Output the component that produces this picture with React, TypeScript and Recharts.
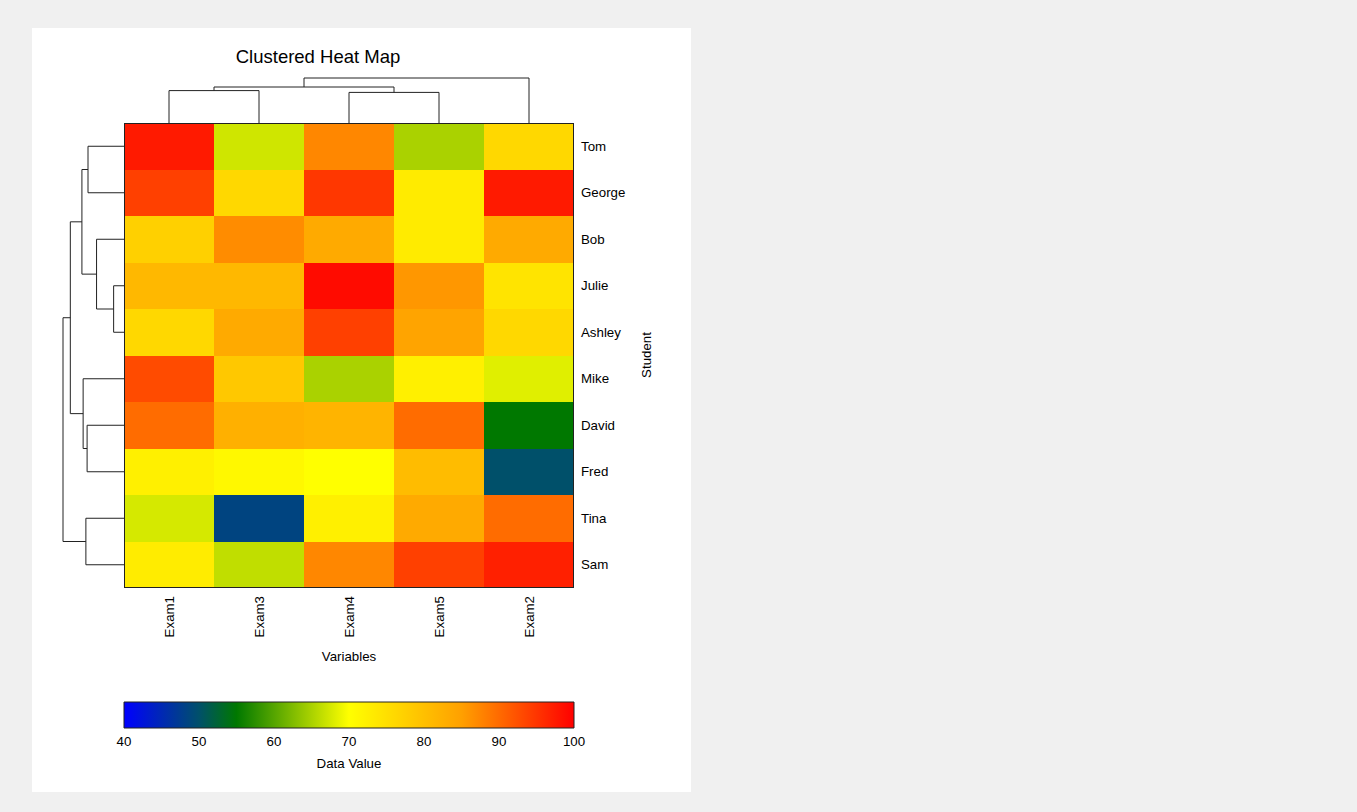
import React from 'react';
import { ScatterChart, Scatter, ComposedChart, Bar, XAxis, YAxis } from 'recharts';

// column order after clustering
const exams = ['Exam1', 'Exam3', 'Exam4', 'Exam5', 'Exam2'];
// row order after clustering
const students = ['Tom', 'George', 'Bob', 'Julie', 'Ashley', 'Mike', 'David', 'Fred', 'Tina', 'Sam'];

// scores per student, same order as `exams`
const tom = [97.6, 67.2, 87.3, 65.0, 76.2];
const george = [94.0, 76.2, 94.8, 73.2, 97.6];
const bob = [77.4, 86.9, 83.4, 73.2, 83.4];
const julie = [81.2, 81.2, 99.0, 85.8, 74.3];
const ashley = [76.2, 83.4, 94.0, 84.4, 76.2];
const mike = [93.0, 78.7, 65.0, 72.4, 68.2];
const david = [89.9, 82.5, 81.8, 89.9, 55.0];
const fred = [72.4, 71.1, 70.0, 80.6, 50.0];
const tina = [67.5, 48.5, 72.4, 83.4, 89.9];
const sam = [73.0, 66.3, 87.3, 94.0, 97.0];
const scores = [tom, george, bob, julie, ashley, mike, david, fred, tina, sam];

// linkage: [left child, right child, height]; leaves first, then merges in order
const colLinks = [[0, 1, 72], [2, 3, 68], [5, 6, 80], [7, 4, 100]];
const rowLinks = [
  [3, 4, 17], [2, 10, 45], [0, 1, 59], [12, 11, 69], [6, 7, 60.5],
  [5, 14, 67], [13, 15, 88], [8, 9, 62.5], [16, 17, 100],
];

// colour scale
const stopValues = [40, 50, 55, 70, 85, 100];
const stopColors = ['#0000ff', '#00506a', '#007800', '#ffff00', '#ffa000', '#ff0000'];
const legendTicks = [40, 50, 60, 70, 80, 90, 100];

const FONT = '"Liberation Sans", Arial, sans-serif';
const FS = 13.3;
const PLOT_X = 124;
const PLOT_Y = 123;
const PLOT_W = 450;
const PLOT_H = 465;
const LINE = '#222';

function hexToRgb(h: string) {
  return [1, 3, 5].map((i) => parseInt(h.slice(i, i + 2), 16));
}

function heatColor(v: number) {
  const lo = stopValues[0];
  const hi = stopValues[stopValues.length - 1];
  const val = Math.max(lo, Math.min(hi, v));
  let i = 0;
  while (i < stopValues.length - 2 && val > stopValues[i + 1]) i++;
  const t = (val - stopValues[i]) / (stopValues[i + 1] - stopValues[i]);
  const a = hexToRgb(stopColors[i]);
  const b = hexToRgb(stopColors[i + 1]);
  const c = a.map((x, k) => Math.round(x + (b[k] - x) * t));
  return `rgb(${c[0]},${c[1]},${c[2]})`;
}

function buildLinks(n: number, links: number[][]) {
  const pos: number[] = [];
  const hgt: number[] = [];
  for (let i = 0; i < n; i++) {
    pos.push(i + 0.5);
    hgt.push(0);
  }
  return links.map(([a, b, h]) => {
    const seg = [
      { p: pos[a], h: hgt[a] },
      { p: pos[a], h },
      { p: pos[b], h },
      { p: pos[b], h: hgt[b] },
    ];
    pos.push((pos[a] + pos[b]) / 2);
    hgt.push(h);
    return seg;
  });
}

const cells = scores.flatMap((row, r) => row.map((v, c) => ({ x: c + 0.5, y: r + 0.5, v })));
const colSegs = buildLinks(exams.length, colLinks);
const rowSegs = buildLinks(students.length, rowLinks);

const noDot = () => <g />;

const CellShape = (props: any) => {
  const cw = PLOT_W / exams.length;
  const ch = PLOT_H / students.length;
  return (
    <rect
      x={props.cx - cw / 2}
      y={props.cy - ch / 2}
      width={cw}
      height={ch}
      fill={heatColor(props.payload.v)}
      shapeRendering="crispEdges"
    />
  );
};

const ExamTick = (props: any) => {
  const { x, y, payload } = props;
  const ty = y + 8;
  return (
    <text x={x} y={ty} dy="0.35em" textAnchor="end" transform={`rotate(-90 ${x} ${ty})`}
      fontSize={FS} fontFamily={FONT} fill="#000">
      {exams[Math.floor(payload.value)]}
    </text>
  );
};

const StudentTick = (props: any) => {
  const { x, y, payload } = props;
  return (
    <text x={x + 7} y={y} dy="0.35em" textAnchor="start" fontSize={FS} fontFamily={FONT} fill="#000">
      {students[Math.floor(payload.value)]}
    </text>
  );
};

const LegendTick = (props: any) => {
  const { x, y, payload } = props;
  return (
    <text x={x} y={y + 13} dy="0.35em" textAnchor="middle" fontSize={FS} fontFamily={FONT} fill="#000">
      {payload.value}
    </text>
  );
};

export default function App() {
  const abs = (left: number, top: number): React.CSSProperties => ({ position: 'absolute', left, top });
  return (
    <div style={{ position: 'absolute', left: 0, top: 0, width: 1357, height: 812, background: '#f0f0f0', overflow: 'hidden' }}>
      <div style={{ position: 'absolute', left: 32, top: 28, width: 659, height: 764, background: '#fff' }} />

      {/* column dendrogram */}
      <div style={abs(124, 73)}>
        <ScatterChart width={450} height={50} margin={{ top: 5, right: 0, bottom: 0, left: 0 }}>
          <XAxis type="number" dataKey="p" domain={[0, 5]} hide />
          <YAxis type="number" dataKey="h" domain={[0, 100]} hide />
          {colSegs.map((seg, i) => (
            <Scatter key={i} data={seg} line={{ stroke: LINE, strokeWidth: 1 }} shape={noDot} isAnimationActive={false} />
          ))}
        </ScatterChart>
      </div>

      {/* row dendrogram */}
      <div style={abs(58, 123)}>
        <ScatterChart width={66} height={465} margin={{ top: 0, right: 0, bottom: 0, left: 5 }}>
          <XAxis type="number" dataKey="h" domain={[0, 100]} reversed hide />
          <YAxis type="number" dataKey="p" domain={[0, 10]} reversed hide />
          {rowSegs.map((seg, i) => (
            <Scatter key={i} data={seg} line={{ stroke: LINE, strokeWidth: 1 }} shape={noDot} isAnimationActive={false} />
          ))}
        </ScatterChart>
      </div>

      {/* heat map */}
      <div style={abs(100, 100)}>
        <ScatterChart width={600} height={600} margin={{ top: 23, right: 54, bottom: 42, left: 24 }}>
          <XAxis type="number" dataKey="x" domain={[0, 5]} ticks={[0.5, 1.5, 2.5, 3.5, 4.5]} interval={0}
            axisLine={false} tickLine={false} tickSize={0} tickMargin={0} height={70} tick={<ExamTick />} />
          <YAxis type="number" dataKey="y" domain={[0, 10]} reversed orientation="right"
            ticks={[0.5, 1.5, 2.5, 3.5, 4.5, 5.5, 6.5, 7.5, 8.5, 9.5]} interval={0}
            axisLine={false} tickLine={false} tickSize={0} tickMargin={0} width={72} tick={<StudentTick />} />
          <Scatter data={cells} shape={<CellShape />} isAnimationActive={false} />
        </ScatterChart>
      </div>

      {/* colour bar */}
      <div style={abs(100, 690)}>
        <ComposedChart layout="vertical" width={500} height={80} data={[{ name: 'scale', range: [40, 100] }]}
          margin={{ top: 12, right: 26, bottom: 12, left: 24 }} barCategoryGap={0}>
          <defs>
            <linearGradient id="cbar" x1="0" y1="0" x2="1" y2="0">
              {stopValues.map((v, i) => (
                <stop key={v} offset={(v - 40) / 60} stopColor={stopColors[i]} />
              ))}
            </linearGradient>
          </defs>
          <XAxis type="number" domain={[40, 100]} ticks={legendTicks} interval={0}
            axisLine={false} tickLine={false} tickSize={0} tickMargin={0} height={30} tick={<LegendTick />} />
          <YAxis type="category" dataKey="name" hide />
          <Bar dataKey="range" fill="url(#cbar)" stroke="#222" strokeWidth={1} isAnimationActive={false} />
        </ComposedChart>
      </div>

      {/* frame and titles */}
      <svg width={1357} height={812} style={{ position: 'absolute', left: 0, top: 0, pointerEvents: 'none' }}>
        <rect x={PLOT_X + 0.5} y={PLOT_Y + 0.5} width={PLOT_W - 1} height={PLOT_H - 1} fill="none" stroke="#222" strokeWidth={1} />
        <text x={318} y={57} dy="0.35em" textAnchor="middle" fontSize={18.5} fontFamily={FONT} fill="#000">Clustered Heat Map</text>
        <text x={349} y={656} dy="0.35em" textAnchor="middle" fontSize={FS} fontFamily={FONT} fill="#000">Variables</text>
        <text x={646} y={355} dy="0.35em" textAnchor="middle" fontSize={FS} fontFamily={FONT} fill="#000"
          transform="rotate(-90 646 355)">Student</text>
        <text x={349} y={763} dy="0.35em" textAnchor="middle" fontSize={FS} fontFamily={FONT} fill="#000">Data Value</text>
      </svg>
    </div>
  );
}
